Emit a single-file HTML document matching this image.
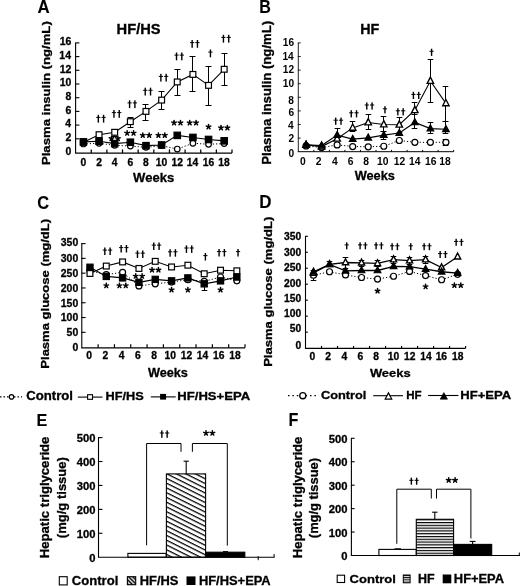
<!DOCTYPE html>
<html><head><meta charset="utf-8"><style>
html,body{margin:0;padding:0;background:#fff;}
svg{display:block;filter:grayscale(1);}
text{font-family:"Liberation Sans",sans-serif;stroke:#000;stroke-width:0.3px;}
</style></head><body>
<svg width="520" height="586" viewBox="0 0 520 586">
<rect width="520" height="586" fill="#fff"/>
<text transform="translate(37.38,12.50) scale(0.9270,1)" font-size="18.17" font-weight="bold" fill="#000" style="stroke-width:0.1px">A</text>
<text transform="translate(116.62,33.60) scale(1.0310,1)" font-size="14.24" font-weight="bold" fill="#000">HF/HS</text>
<text transform="translate(49.50,165.08) rotate(-90) scale(1.1177,1)" font-size="11.77" font-weight="bold">Plasma insulin (ng/mL)</text>
<line x1="75.60" y1="42.90" x2="75.60" y2="153.00" stroke="#000" stroke-width="1.1"/>
<line x1="75.05" y1="138.80" x2="79.40" y2="138.80" stroke="#000" stroke-width="1.1"/>
<line x1="75.05" y1="125.10" x2="79.40" y2="125.10" stroke="#000" stroke-width="1.1"/>
<line x1="75.05" y1="111.40" x2="79.40" y2="111.40" stroke="#000" stroke-width="1.1"/>
<line x1="75.05" y1="97.70" x2="79.40" y2="97.70" stroke="#000" stroke-width="1.1"/>
<line x1="75.05" y1="84.00" x2="79.40" y2="84.00" stroke="#000" stroke-width="1.1"/>
<line x1="75.05" y1="70.30" x2="79.40" y2="70.30" stroke="#000" stroke-width="1.1"/>
<line x1="75.05" y1="56.60" x2="79.40" y2="56.60" stroke="#000" stroke-width="1.1"/>
<line x1="75.05" y1="42.90" x2="79.40" y2="42.90" stroke="#000" stroke-width="1.1"/>
<line x1="74.97" y1="153.00" x2="232.00" y2="153.00" stroke="#000" stroke-width="1.25"/>
<line x1="91.24" y1="153.00" x2="91.24" y2="149.40" stroke="#000" stroke-width="1.25"/>
<line x1="106.88" y1="153.00" x2="106.88" y2="149.40" stroke="#000" stroke-width="1.25"/>
<line x1="122.52" y1="153.00" x2="122.52" y2="149.40" stroke="#000" stroke-width="1.25"/>
<line x1="138.16" y1="153.00" x2="138.16" y2="149.40" stroke="#000" stroke-width="1.25"/>
<line x1="153.80" y1="153.00" x2="153.80" y2="149.40" stroke="#000" stroke-width="1.25"/>
<line x1="169.44" y1="153.00" x2="169.44" y2="149.40" stroke="#000" stroke-width="1.25"/>
<line x1="185.08" y1="153.00" x2="185.08" y2="149.40" stroke="#000" stroke-width="1.25"/>
<line x1="200.72" y1="153.00" x2="200.72" y2="149.40" stroke="#000" stroke-width="1.25"/>
<line x1="216.36" y1="153.00" x2="216.36" y2="149.40" stroke="#000" stroke-width="1.25"/>
<line x1="232.00" y1="153.00" x2="232.00" y2="149.40" stroke="#000" stroke-width="1.25"/>
<text transform="translate(65.52,154.85) scale(1.0000,1)" font-size="10.45" font-weight="bold">0</text>
<text transform="translate(65.51,141.15) scale(1.0000,1)" font-size="10.45" font-weight="bold">2</text>
<text transform="translate(65.14,127.45) scale(1.0000,1)" font-size="10.45" font-weight="bold">4</text>
<text transform="translate(65.46,113.75) scale(1.0000,1)" font-size="10.45" font-weight="bold">6</text>
<text transform="translate(65.41,100.05) scale(1.0000,1)" font-size="10.45" font-weight="bold">8</text>
<text transform="translate(59.70,86.35) scale(1.0000,1)" font-size="10.45" font-weight="bold">10</text>
<text transform="translate(59.69,72.65) scale(1.0000,1)" font-size="10.45" font-weight="bold">12</text>
<text transform="translate(59.33,58.95) scale(1.0000,1)" font-size="10.45" font-weight="bold">14</text>
<text transform="translate(59.65,45.25) scale(1.0000,1)" font-size="10.45" font-weight="bold">16</text>
<text transform="translate(80.56,165.60) scale(1.0000,1)" font-size="10.31" font-weight="bold">0</text>
<text transform="translate(96.22,165.60) scale(1.0000,1)" font-size="10.31" font-weight="bold">2</text>
<text transform="translate(111.78,165.60) scale(1.0000,1)" font-size="10.31" font-weight="bold">4</text>
<text transform="translate(127.47,165.60) scale(1.0000,1)" font-size="10.31" font-weight="bold">6</text>
<text transform="translate(143.11,165.60) scale(1.0000,1)" font-size="10.31" font-weight="bold">8</text>
<text transform="translate(155.77,165.60) scale(1.0000,1)" font-size="10.31" font-weight="bold">10</text>
<text transform="translate(171.41,165.60) scale(1.0000,1)" font-size="10.31" font-weight="bold">12</text>
<text transform="translate(186.87,165.60) scale(1.0000,1)" font-size="10.31" font-weight="bold">14</text>
<text transform="translate(202.67,165.60) scale(1.0000,1)" font-size="10.31" font-weight="bold">16</text>
<text transform="translate(218.28,165.60) scale(1.0000,1)" font-size="10.31" font-weight="bold">18</text>
<text transform="translate(133.09,182.10) scale(1.0440,1)" font-size="12.50" font-weight="bold" fill="#000">Weeks</text>
<line x1="114.50" y1="129.50" x2="114.50" y2="136.50" stroke="#000" stroke-width="1.0"/>
<line x1="111.50" y1="129.50" x2="117.50" y2="129.50" stroke="#000" stroke-width="1.0"/>
<line x1="111.50" y1="136.50" x2="117.50" y2="136.50" stroke="#000" stroke-width="1.0"/>
<line x1="130.50" y1="117.50" x2="130.50" y2="127.50" stroke="#000" stroke-width="1.0"/>
<line x1="127.50" y1="117.50" x2="133.50" y2="117.50" stroke="#000" stroke-width="1.0"/>
<line x1="127.50" y1="127.50" x2="133.50" y2="127.50" stroke="#000" stroke-width="1.0"/>
<line x1="145.50" y1="104.50" x2="145.50" y2="120.50" stroke="#000" stroke-width="1.0"/>
<line x1="142.50" y1="104.50" x2="148.50" y2="104.50" stroke="#000" stroke-width="1.0"/>
<line x1="142.50" y1="120.50" x2="148.50" y2="120.50" stroke="#000" stroke-width="1.0"/>
<line x1="161.50" y1="91.50" x2="161.50" y2="109.50" stroke="#000" stroke-width="1.0"/>
<line x1="158.50" y1="91.50" x2="164.50" y2="91.50" stroke="#000" stroke-width="1.0"/>
<line x1="158.50" y1="109.50" x2="164.50" y2="109.50" stroke="#000" stroke-width="1.0"/>
<line x1="177.50" y1="69.50" x2="177.50" y2="95.50" stroke="#000" stroke-width="1.0"/>
<line x1="174.50" y1="69.50" x2="180.50" y2="69.50" stroke="#000" stroke-width="1.0"/>
<line x1="174.50" y1="95.50" x2="180.50" y2="95.50" stroke="#000" stroke-width="1.0"/>
<line x1="192.50" y1="56.50" x2="192.50" y2="91.50" stroke="#000" stroke-width="1.0"/>
<line x1="189.50" y1="56.50" x2="195.50" y2="56.50" stroke="#000" stroke-width="1.0"/>
<line x1="189.50" y1="91.50" x2="195.50" y2="91.50" stroke="#000" stroke-width="1.0"/>
<line x1="208.50" y1="66.50" x2="208.50" y2="105.50" stroke="#000" stroke-width="1.0"/>
<line x1="205.50" y1="66.50" x2="211.50" y2="66.50" stroke="#000" stroke-width="1.0"/>
<line x1="205.50" y1="105.50" x2="211.50" y2="105.50" stroke="#000" stroke-width="1.0"/>
<line x1="224.50" y1="53.50" x2="224.50" y2="85.50" stroke="#000" stroke-width="1.0"/>
<line x1="221.50" y1="53.50" x2="227.50" y2="53.50" stroke="#000" stroke-width="1.0"/>
<line x1="221.50" y1="85.50" x2="227.50" y2="85.50" stroke="#000" stroke-width="1.0"/>
<polyline points="83.42,143.94 99.06,143.25 114.70,145.31 130.34,145.99 145.98,147.36 161.62,145.65 177.26,149.07 192.90,143.25 208.54,144.28 224.18,143.59" fill="none" stroke="#000" stroke-width="1.0" stroke-dasharray="1.2,2"/>
<polyline points="83.42,141.88 99.06,141.20 114.70,143.59 130.34,142.22 145.98,145.65 161.62,144.97 177.26,135.38 192.90,137.43 208.54,139.49 224.18,140.85" fill="none" stroke="#000" stroke-width="1.1"/>
<polyline points="83.42,142.22 99.06,134.69 114.70,132.29 130.34,121.67 145.98,111.40 161.62,100.10 177.26,81.94 192.90,74.41 208.54,85.37 224.18,69.27" fill="none" stroke="#000" stroke-width="1.1"/>
<circle cx="83.42" cy="143.94" r="2.80" fill="#fff" stroke="#000" stroke-width="1.2"/>
<circle cx="99.06" cy="143.25" r="2.80" fill="#fff" stroke="#000" stroke-width="1.2"/>
<circle cx="114.70" cy="145.31" r="2.80" fill="#fff" stroke="#000" stroke-width="1.2"/>
<circle cx="130.34" cy="145.99" r="2.80" fill="#fff" stroke="#000" stroke-width="1.2"/>
<circle cx="145.98" cy="147.36" r="2.80" fill="#fff" stroke="#000" stroke-width="1.2"/>
<circle cx="161.62" cy="145.65" r="2.80" fill="#fff" stroke="#000" stroke-width="1.2"/>
<circle cx="177.26" cy="149.07" r="2.80" fill="#fff" stroke="#000" stroke-width="1.2"/>
<circle cx="192.90" cy="143.25" r="2.80" fill="#fff" stroke="#000" stroke-width="1.2"/>
<circle cx="208.54" cy="144.28" r="2.80" fill="#fff" stroke="#000" stroke-width="1.2"/>
<circle cx="224.18" cy="143.59" r="2.80" fill="#fff" stroke="#000" stroke-width="1.2"/>
<rect x="80.52" y="139.32" width="5.80" height="5.80" fill="#fff" stroke="#000" stroke-width="1.2"/>
<rect x="96.16" y="131.79" width="5.80" height="5.80" fill="#fff" stroke="#000" stroke-width="1.2"/>
<rect x="111.80" y="129.39" width="5.80" height="5.80" fill="#fff" stroke="#000" stroke-width="1.2"/>
<rect x="127.44" y="118.77" width="5.80" height="5.80" fill="#fff" stroke="#000" stroke-width="1.2"/>
<rect x="143.08" y="108.50" width="5.80" height="5.80" fill="#fff" stroke="#000" stroke-width="1.2"/>
<rect x="158.72" y="97.20" width="5.80" height="5.80" fill="#fff" stroke="#000" stroke-width="1.2"/>
<rect x="174.36" y="79.04" width="5.80" height="5.80" fill="#fff" stroke="#000" stroke-width="1.2"/>
<rect x="190.00" y="71.51" width="5.80" height="5.80" fill="#fff" stroke="#000" stroke-width="1.2"/>
<rect x="205.64" y="82.47" width="5.80" height="5.80" fill="#fff" stroke="#000" stroke-width="1.2"/>
<rect x="221.28" y="66.37" width="5.80" height="5.80" fill="#fff" stroke="#000" stroke-width="1.2"/>
<rect x="80.22" y="138.68" width="6.40" height="6.40" fill="#000" stroke="#000" stroke-width="1.2"/>
<rect x="95.86" y="138.00" width="6.40" height="6.40" fill="#000" stroke="#000" stroke-width="1.2"/>
<rect x="111.50" y="140.39" width="6.40" height="6.40" fill="#000" stroke="#000" stroke-width="1.2"/>
<rect x="127.14" y="139.02" width="6.40" height="6.40" fill="#000" stroke="#000" stroke-width="1.2"/>
<rect x="142.78" y="142.45" width="6.40" height="6.40" fill="#000" stroke="#000" stroke-width="1.2"/>
<rect x="158.42" y="141.76" width="6.40" height="6.40" fill="#000" stroke="#000" stroke-width="1.2"/>
<rect x="174.06" y="132.17" width="6.40" height="6.40" fill="#000" stroke="#000" stroke-width="1.2"/>
<rect x="189.70" y="134.23" width="6.40" height="6.40" fill="#000" stroke="#000" stroke-width="1.2"/>
<rect x="205.34" y="136.28" width="6.40" height="6.40" fill="#000" stroke="#000" stroke-width="1.2"/>
<rect x="220.98" y="137.65" width="6.40" height="6.40" fill="#000" stroke="#000" stroke-width="1.2"/>
<rect x="97.61" y="114.80" width="1.4" height="7.8" fill="#000"/>
<rect x="96.21" y="116.90" width="4.2" height="1.0" fill="#000"/>
<rect x="102.91" y="114.80" width="1.4" height="7.8" fill="#000"/>
<rect x="101.51" y="116.90" width="4.2" height="1.0" fill="#000"/>
<rect x="113.25" y="110.00" width="1.4" height="7.8" fill="#000"/>
<rect x="111.85" y="112.10" width="4.2" height="1.0" fill="#000"/>
<rect x="118.55" y="110.00" width="1.4" height="7.8" fill="#000"/>
<rect x="117.15" y="112.10" width="4.2" height="1.0" fill="#000"/>
<rect x="128.89" y="100.30" width="1.4" height="7.8" fill="#000"/>
<rect x="127.49" y="102.40" width="4.2" height="1.0" fill="#000"/>
<rect x="134.19" y="100.30" width="1.4" height="7.8" fill="#000"/>
<rect x="132.79" y="102.40" width="4.2" height="1.0" fill="#000"/>
<rect x="144.53" y="87.70" width="1.4" height="7.8" fill="#000"/>
<rect x="143.13" y="89.80" width="4.2" height="1.0" fill="#000"/>
<rect x="149.83" y="87.70" width="1.4" height="7.8" fill="#000"/>
<rect x="148.43" y="89.80" width="4.2" height="1.0" fill="#000"/>
<rect x="160.17" y="73.80" width="1.4" height="7.8" fill="#000"/>
<rect x="158.77" y="75.90" width="4.2" height="1.0" fill="#000"/>
<rect x="165.47" y="73.80" width="1.4" height="7.8" fill="#000"/>
<rect x="164.07" y="75.90" width="4.2" height="1.0" fill="#000"/>
<rect x="175.81" y="52.50" width="1.4" height="7.8" fill="#000"/>
<rect x="174.41" y="54.60" width="4.2" height="1.0" fill="#000"/>
<rect x="181.11" y="52.50" width="1.4" height="7.8" fill="#000"/>
<rect x="179.71" y="54.60" width="4.2" height="1.0" fill="#000"/>
<rect x="191.45" y="40.00" width="1.4" height="7.8" fill="#000"/>
<rect x="190.05" y="42.10" width="4.2" height="1.0" fill="#000"/>
<rect x="196.75" y="40.00" width="1.4" height="7.8" fill="#000"/>
<rect x="195.35" y="42.10" width="4.2" height="1.0" fill="#000"/>
<rect x="209.74" y="49.50" width="1.4" height="7.8" fill="#000"/>
<rect x="208.34" y="51.60" width="4.2" height="1.0" fill="#000"/>
<rect x="222.73" y="34.80" width="1.4" height="7.8" fill="#000"/>
<rect x="221.33" y="36.90" width="4.2" height="1.0" fill="#000"/>
<rect x="228.03" y="34.80" width="1.4" height="7.8" fill="#000"/>
<rect x="226.63" y="36.90" width="4.2" height="1.0" fill="#000"/>
<path d="M111.50,138.53L111.50,136.13M111.50,138.53L113.78,137.79M111.50,138.53L112.91,140.47M111.50,138.53L110.09,140.47M111.50,138.53L109.22,137.79" stroke="#000" stroke-width="1.5" stroke-linecap="round" fill="none"/>
<path d="M117.90,138.53L117.90,136.13M117.90,138.53L120.18,137.79M117.90,138.53L119.31,140.47M117.90,138.53L116.49,140.47M117.90,138.53L115.62,137.79" stroke="#000" stroke-width="1.5" stroke-linecap="round" fill="none"/>
<path d="M127.14,133.13L127.14,130.73M127.14,133.13L129.42,132.39M127.14,133.13L128.55,135.07M127.14,133.13L125.73,135.07M127.14,133.13L124.86,132.39" stroke="#000" stroke-width="1.5" stroke-linecap="round" fill="none"/>
<path d="M133.54,133.13L133.54,130.73M133.54,133.13L135.82,132.39M133.54,133.13L134.95,135.07M133.54,133.13L132.13,135.07M133.54,133.13L131.26,132.39" stroke="#000" stroke-width="1.5" stroke-linecap="round" fill="none"/>
<path d="M142.78,135.33L142.78,132.93M142.78,135.33L145.06,134.59M142.78,135.33L144.19,137.27M142.78,135.33L141.37,137.27M142.78,135.33L140.50,134.59" stroke="#000" stroke-width="1.5" stroke-linecap="round" fill="none"/>
<path d="M149.18,135.33L149.18,132.93M149.18,135.33L151.46,134.59M149.18,135.33L150.59,137.27M149.18,135.33L147.77,137.27M149.18,135.33L146.90,134.59" stroke="#000" stroke-width="1.5" stroke-linecap="round" fill="none"/>
<path d="M158.42,135.33L158.42,132.93M158.42,135.33L160.70,134.59M158.42,135.33L159.83,137.27M158.42,135.33L157.01,137.27M158.42,135.33L156.14,134.59" stroke="#000" stroke-width="1.5" stroke-linecap="round" fill="none"/>
<path d="M164.82,135.33L164.82,132.93M164.82,135.33L167.10,134.59M164.82,135.33L166.23,137.27M164.82,135.33L163.41,137.27M164.82,135.33L162.54,134.59" stroke="#000" stroke-width="1.5" stroke-linecap="round" fill="none"/>
<path d="M174.06,122.83L174.06,120.43M174.06,122.83L176.34,122.09M174.06,122.83L175.47,124.77M174.06,122.83L172.65,124.77M174.06,122.83L171.78,122.09" stroke="#000" stroke-width="1.5" stroke-linecap="round" fill="none"/>
<path d="M180.46,122.83L180.46,120.43M180.46,122.83L182.74,122.09M180.46,122.83L181.87,124.77M180.46,122.83L179.05,124.77M180.46,122.83L178.18,122.09" stroke="#000" stroke-width="1.5" stroke-linecap="round" fill="none"/>
<path d="M189.70,122.83L189.70,120.43M189.70,122.83L191.98,122.09M189.70,122.83L191.11,124.77M189.70,122.83L188.29,124.77M189.70,122.83L187.42,122.09" stroke="#000" stroke-width="1.5" stroke-linecap="round" fill="none"/>
<path d="M196.10,122.83L196.10,120.43M196.10,122.83L198.38,122.09M196.10,122.83L197.51,124.77M196.10,122.83L194.69,124.77M196.10,122.83L193.82,122.09" stroke="#000" stroke-width="1.5" stroke-linecap="round" fill="none"/>
<path d="M208.54,126.83L208.54,124.43M208.54,126.83L210.82,126.09M208.54,126.83L209.95,128.77M208.54,126.83L207.13,128.77M208.54,126.83L206.26,126.09" stroke="#000" stroke-width="1.5" stroke-linecap="round" fill="none"/>
<path d="M220.98,127.83L220.98,125.43M220.98,127.83L223.26,127.09M220.98,127.83L222.39,129.77M220.98,127.83L219.57,129.77M220.98,127.83L218.70,127.09" stroke="#000" stroke-width="1.5" stroke-linecap="round" fill="none"/>
<path d="M227.38,127.83L227.38,125.43M227.38,127.83L229.66,127.09M227.38,127.83L228.79,129.77M227.38,127.83L225.97,129.77M227.38,127.83L225.10,127.09" stroke="#000" stroke-width="1.5" stroke-linecap="round" fill="none"/>
<text transform="translate(259.33,12.50) scale(0.8774,1)" font-size="18.31" font-weight="bold" fill="#000" style="stroke-width:0.1px">B</text>
<text transform="translate(360.24,33.90) scale(1.0153,1)" font-size="14.10" font-weight="bold" fill="#000">HF</text>
<text transform="translate(271.40,164.78) rotate(-90) scale(1.1033,1)" font-size="11.92" font-weight="bold">Plasma insulin (ng/mL)</text>
<line x1="298.30" y1="42.90" x2="298.30" y2="151.70" stroke="#222" stroke-width="1.0"/>
<line x1="297.80" y1="138.10" x2="300.70" y2="138.10" stroke="#222" stroke-width="1.0"/>
<line x1="297.80" y1="124.50" x2="300.70" y2="124.50" stroke="#222" stroke-width="1.0"/>
<line x1="297.80" y1="110.90" x2="300.70" y2="110.90" stroke="#222" stroke-width="1.0"/>
<line x1="297.80" y1="97.30" x2="300.70" y2="97.30" stroke="#222" stroke-width="1.0"/>
<line x1="297.80" y1="83.70" x2="300.70" y2="83.70" stroke="#222" stroke-width="1.0"/>
<line x1="297.80" y1="70.10" x2="300.70" y2="70.10" stroke="#222" stroke-width="1.0"/>
<line x1="297.80" y1="56.50" x2="300.70" y2="56.50" stroke="#222" stroke-width="1.0"/>
<line x1="297.80" y1="42.90" x2="300.70" y2="42.90" stroke="#222" stroke-width="1.0"/>
<line x1="297.80" y1="151.70" x2="453.70" y2="151.70" stroke="#000" stroke-width="1.0"/>
<line x1="313.84" y1="151.70" x2="313.84" y2="149.90" stroke="#000" stroke-width="1.0"/>
<line x1="329.38" y1="151.70" x2="329.38" y2="149.90" stroke="#000" stroke-width="1.0"/>
<line x1="344.92" y1="151.70" x2="344.92" y2="149.90" stroke="#000" stroke-width="1.0"/>
<line x1="360.46" y1="151.70" x2="360.46" y2="149.90" stroke="#000" stroke-width="1.0"/>
<line x1="376.00" y1="151.70" x2="376.00" y2="149.90" stroke="#000" stroke-width="1.0"/>
<line x1="391.54" y1="151.70" x2="391.54" y2="149.90" stroke="#000" stroke-width="1.0"/>
<line x1="407.08" y1="151.70" x2="407.08" y2="149.90" stroke="#000" stroke-width="1.0"/>
<line x1="422.62" y1="151.70" x2="422.62" y2="149.90" stroke="#000" stroke-width="1.0"/>
<line x1="438.16" y1="151.70" x2="438.16" y2="149.90" stroke="#000" stroke-width="1.0"/>
<line x1="453.70" y1="151.70" x2="453.70" y2="149.90" stroke="#000" stroke-width="1.0"/>
<text transform="translate(288.46,156.95) scale(1.0000,1)" font-size="10.17" font-weight="bold" style="stroke-width:0px">0</text>
<text transform="translate(288.45,142.05) scale(1.0000,1)" font-size="10.17" font-weight="bold" style="stroke-width:0px">2</text>
<text transform="translate(288.10,129.05) scale(1.0000,1)" font-size="10.17" font-weight="bold" style="stroke-width:0px">4</text>
<text transform="translate(288.41,116.35) scale(1.0000,1)" font-size="10.17" font-weight="bold" style="stroke-width:0px">6</text>
<text transform="translate(288.36,103.55) scale(1.0000,1)" font-size="10.17" font-weight="bold" style="stroke-width:0px">8</text>
<text transform="translate(282.81,87.35) scale(1.0000,1)" font-size="10.17" font-weight="bold" style="stroke-width:0px">10</text>
<text transform="translate(282.80,73.35) scale(1.0000,1)" font-size="10.17" font-weight="bold" style="stroke-width:0px">12</text>
<text transform="translate(282.44,59.85) scale(1.0000,1)" font-size="10.17" font-weight="bold" style="stroke-width:0px">14</text>
<text transform="translate(282.76,45.95) scale(1.0000,1)" font-size="10.17" font-weight="bold" style="stroke-width:0px">16</text>
<text transform="translate(300.04,165.10) scale(1.0000,1)" font-size="10.31" font-weight="bold" style="stroke-width:0px">0</text>
<text transform="translate(315.86,165.10) scale(1.0000,1)" font-size="10.31" font-weight="bold" style="stroke-width:0px">2</text>
<text transform="translate(332.08,165.10) scale(1.0000,1)" font-size="10.31" font-weight="bold" style="stroke-width:0px">4</text>
<text transform="translate(347.63,165.10) scale(1.0000,1)" font-size="10.31" font-weight="bold" style="stroke-width:0px">6</text>
<text transform="translate(363.13,165.10) scale(1.0000,1)" font-size="10.31" font-weight="bold" style="stroke-width:0px">8</text>
<text transform="translate(377.05,165.10) scale(1.0000,1)" font-size="10.31" font-weight="bold" style="stroke-width:0px">10</text>
<text transform="translate(393.65,165.10) scale(1.0000,1)" font-size="10.31" font-weight="bold" style="stroke-width:0px">12</text>
<text transform="translate(408.97,165.10) scale(1.0000,1)" font-size="10.31" font-weight="bold" style="stroke-width:0px">14</text>
<text transform="translate(424.93,165.10) scale(1.0000,1)" font-size="10.31" font-weight="bold" style="stroke-width:0px">16</text>
<text transform="translate(439.20,165.10) scale(1.0000,1)" font-size="10.31" font-weight="bold" style="stroke-width:0px">18</text>
<text transform="translate(354.69,180.30) scale(1.0092,1)" font-size="12.65" font-weight="bold" fill="#000">Weeks</text>
<line x1="337.50" y1="128.50" x2="337.50" y2="140.50" stroke="#000" stroke-width="1.0"/>
<line x1="334.70" y1="128.50" x2="340.30" y2="128.50" stroke="#000" stroke-width="1.0"/>
<line x1="334.70" y1="140.50" x2="340.30" y2="140.50" stroke="#000" stroke-width="1.0"/>
<line x1="352.50" y1="121.50" x2="352.50" y2="131.50" stroke="#000" stroke-width="1.0"/>
<line x1="349.70" y1="121.50" x2="355.30" y2="121.50" stroke="#000" stroke-width="1.0"/>
<line x1="349.70" y1="131.50" x2="355.30" y2="131.50" stroke="#000" stroke-width="1.0"/>
<line x1="368.50" y1="114.50" x2="368.50" y2="129.50" stroke="#000" stroke-width="1.0"/>
<line x1="365.70" y1="114.50" x2="371.30" y2="114.50" stroke="#000" stroke-width="1.0"/>
<line x1="365.70" y1="129.50" x2="371.30" y2="129.50" stroke="#000" stroke-width="1.0"/>
<line x1="383.50" y1="116.50" x2="383.50" y2="131.50" stroke="#000" stroke-width="1.0"/>
<line x1="380.70" y1="116.50" x2="386.30" y2="116.50" stroke="#000" stroke-width="1.0"/>
<line x1="380.70" y1="131.50" x2="386.30" y2="131.50" stroke="#000" stroke-width="1.0"/>
<line x1="383.50" y1="131.50" x2="383.50" y2="139.50" stroke="#000" stroke-width="1.0"/>
<line x1="380.70" y1="131.50" x2="386.30" y2="131.50" stroke="#000" stroke-width="1.0"/>
<line x1="380.70" y1="139.50" x2="386.30" y2="139.50" stroke="#000" stroke-width="1.0"/>
<line x1="399.50" y1="117.50" x2="399.50" y2="132.50" stroke="#000" stroke-width="1.0"/>
<line x1="396.70" y1="117.50" x2="402.30" y2="117.50" stroke="#000" stroke-width="1.0"/>
<line x1="396.70" y1="132.50" x2="402.30" y2="132.50" stroke="#000" stroke-width="1.0"/>
<line x1="414.50" y1="102.50" x2="414.50" y2="114.50" stroke="#000" stroke-width="1.0"/>
<line x1="411.70" y1="102.50" x2="417.30" y2="102.50" stroke="#000" stroke-width="1.0"/>
<line x1="411.70" y1="114.50" x2="417.30" y2="114.50" stroke="#000" stroke-width="1.0"/>
<line x1="414.50" y1="114.50" x2="414.50" y2="128.50" stroke="#000" stroke-width="1.0"/>
<line x1="411.70" y1="114.50" x2="417.30" y2="114.50" stroke="#000" stroke-width="1.0"/>
<line x1="411.70" y1="128.50" x2="417.30" y2="128.50" stroke="#000" stroke-width="1.0"/>
<line x1="430.50" y1="59.50" x2="430.50" y2="102.50" stroke="#000" stroke-width="1.0"/>
<line x1="427.70" y1="59.50" x2="433.30" y2="59.50" stroke="#000" stroke-width="1.0"/>
<line x1="427.70" y1="102.50" x2="433.30" y2="102.50" stroke="#000" stroke-width="1.0"/>
<line x1="430.50" y1="122.50" x2="430.50" y2="133.50" stroke="#000" stroke-width="1.0"/>
<line x1="427.70" y1="122.50" x2="433.30" y2="122.50" stroke="#000" stroke-width="1.0"/>
<line x1="427.70" y1="133.50" x2="433.30" y2="133.50" stroke="#000" stroke-width="1.0"/>
<line x1="445.50" y1="86.50" x2="445.50" y2="121.50" stroke="#000" stroke-width="1.0"/>
<line x1="442.70" y1="86.50" x2="448.30" y2="86.50" stroke="#000" stroke-width="1.0"/>
<line x1="442.70" y1="121.50" x2="448.30" y2="121.50" stroke="#000" stroke-width="1.0"/>
<line x1="445.50" y1="121.50" x2="445.50" y2="133.50" stroke="#000" stroke-width="1.0"/>
<line x1="442.70" y1="121.50" x2="448.30" y2="121.50" stroke="#000" stroke-width="1.0"/>
<line x1="442.70" y1="133.50" x2="448.30" y2="133.50" stroke="#000" stroke-width="1.0"/>
<line x1="445.50" y1="139.50" x2="445.50" y2="145.50" stroke="#000" stroke-width="1.0"/>
<line x1="442.70" y1="139.50" x2="448.30" y2="139.50" stroke="#000" stroke-width="1.0"/>
<line x1="442.70" y1="145.50" x2="448.30" y2="145.50" stroke="#000" stroke-width="1.0"/>
<polyline points="306.07,145.92 321.61,147.62 337.15,144.90 352.69,146.53 368.23,146.80 383.77,146.26 399.31,140.48 414.85,142.32 430.39,142.32 445.93,142.32" fill="none" stroke="#000" stroke-width="1.0" stroke-dasharray="1.2,2"/>
<polyline points="306.07,144.90 321.61,145.58 337.15,135.11 352.69,139.12 368.23,137.83 383.77,135.11 399.31,133.00 414.85,122.46 430.39,128.58 445.93,129.26" fill="none" stroke="#000" stroke-width="1.1"/>
<polyline points="306.07,144.90 321.61,146.60 337.15,138.78 352.69,127.90 368.23,122.46 383.77,124.50 399.31,124.70 414.85,110.22 430.39,80.98 445.93,103.42" fill="none" stroke="#000" stroke-width="1.1"/>
<circle cx="306.07" cy="145.92" r="3.00" fill="#fff" stroke="#000" stroke-width="1.2"/>
<circle cx="321.61" cy="147.62" r="3.00" fill="#fff" stroke="#000" stroke-width="1.2"/>
<circle cx="337.15" cy="144.90" r="3.00" fill="#fff" stroke="#000" stroke-width="1.2"/>
<circle cx="352.69" cy="146.53" r="3.00" fill="#fff" stroke="#000" stroke-width="1.2"/>
<circle cx="368.23" cy="146.80" r="3.00" fill="#fff" stroke="#000" stroke-width="1.2"/>
<circle cx="383.77" cy="146.26" r="3.00" fill="#fff" stroke="#000" stroke-width="1.2"/>
<circle cx="399.31" cy="140.48" r="3.00" fill="#fff" stroke="#000" stroke-width="1.2"/>
<circle cx="414.85" cy="142.32" r="3.00" fill="#fff" stroke="#000" stroke-width="1.2"/>
<circle cx="430.39" cy="142.32" r="3.00" fill="#fff" stroke="#000" stroke-width="1.2"/>
<circle cx="445.93" cy="142.32" r="3.00" fill="#fff" stroke="#000" stroke-width="1.2"/>
<polygon points="306.07,141.01 309.29,147.26 302.85,147.26" fill="#fff" stroke="#000" stroke-width="1.35" stroke-linejoin="miter"/>
<polygon points="321.61,142.72 324.83,148.96 318.39,148.96" fill="#fff" stroke="#000" stroke-width="1.35" stroke-linejoin="miter"/>
<polygon points="337.15,134.90 340.37,141.14 333.93,141.14" fill="#fff" stroke="#000" stroke-width="1.35" stroke-linejoin="miter"/>
<polygon points="352.69,124.01 355.91,130.26 349.47,130.26" fill="#fff" stroke="#000" stroke-width="1.35" stroke-linejoin="miter"/>
<polygon points="368.23,118.57 371.45,124.83 365.01,124.83" fill="#fff" stroke="#000" stroke-width="1.35" stroke-linejoin="miter"/>
<polygon points="383.77,120.61 386.99,126.86 380.55,126.86" fill="#fff" stroke="#000" stroke-width="1.35" stroke-linejoin="miter"/>
<polygon points="399.31,120.82 402.53,127.07 396.09,127.07" fill="#fff" stroke="#000" stroke-width="1.35" stroke-linejoin="miter"/>
<polygon points="414.85,106.33 418.07,112.59 411.63,112.59" fill="#fff" stroke="#000" stroke-width="1.35" stroke-linejoin="miter"/>
<polygon points="430.39,77.09 433.61,83.34 427.17,83.34" fill="#fff" stroke="#000" stroke-width="1.35" stroke-linejoin="miter"/>
<polygon points="445.93,99.53 449.15,105.78 442.70,105.78" fill="#fff" stroke="#000" stroke-width="1.35" stroke-linejoin="miter"/>
<polygon points="306.07,141.18 309.37,147.18 302.77,147.18" fill="#000" stroke="#000" stroke-width="1.2" stroke-linejoin="miter"/>
<polygon points="321.61,141.86 324.91,147.86 318.31,147.86" fill="#000" stroke="#000" stroke-width="1.2" stroke-linejoin="miter"/>
<polygon points="337.15,131.39 340.45,137.39 333.85,137.39" fill="#000" stroke="#000" stroke-width="1.2" stroke-linejoin="miter"/>
<polygon points="352.69,135.40 355.99,141.40 349.39,141.40" fill="#000" stroke="#000" stroke-width="1.2" stroke-linejoin="miter"/>
<polygon points="368.23,134.11 371.53,140.11 364.93,140.11" fill="#000" stroke="#000" stroke-width="1.2" stroke-linejoin="miter"/>
<polygon points="383.77,131.39 387.07,137.39 380.47,137.39" fill="#000" stroke="#000" stroke-width="1.2" stroke-linejoin="miter"/>
<polygon points="399.31,129.28 402.61,135.28 396.01,135.28" fill="#000" stroke="#000" stroke-width="1.2" stroke-linejoin="miter"/>
<polygon points="414.85,118.74 418.15,124.74 411.55,124.74" fill="#000" stroke="#000" stroke-width="1.2" stroke-linejoin="miter"/>
<polygon points="430.39,124.86 433.69,130.86 427.09,130.86" fill="#000" stroke="#000" stroke-width="1.2" stroke-linejoin="miter"/>
<polygon points="445.93,125.54 449.23,131.54 442.63,131.54" fill="#000" stroke="#000" stroke-width="1.2" stroke-linejoin="miter"/>
<rect x="335.00" y="117.60" width="1.4" height="7.2" fill="#000"/>
<rect x="333.60" y="119.70" width="4.2" height="1.0" fill="#000"/>
<rect x="340.30" y="117.60" width="1.4" height="7.2" fill="#000"/>
<rect x="338.90" y="119.70" width="4.2" height="1.0" fill="#000"/>
<rect x="350.54" y="110.20" width="1.4" height="7.2" fill="#000"/>
<rect x="349.14" y="112.30" width="4.2" height="1.0" fill="#000"/>
<rect x="355.84" y="110.20" width="1.4" height="7.2" fill="#000"/>
<rect x="354.44" y="112.30" width="4.2" height="1.0" fill="#000"/>
<rect x="366.08" y="102.40" width="1.4" height="7.2" fill="#000"/>
<rect x="364.68" y="104.50" width="4.2" height="1.0" fill="#000"/>
<rect x="371.38" y="102.40" width="1.4" height="7.2" fill="#000"/>
<rect x="369.98" y="104.50" width="4.2" height="1.0" fill="#000"/>
<rect x="384.27" y="106.20" width="1.4" height="7.2" fill="#000"/>
<rect x="382.87" y="108.30" width="4.2" height="1.0" fill="#000"/>
<rect x="397.16" y="108.20" width="1.4" height="7.2" fill="#000"/>
<rect x="395.76" y="110.30" width="4.2" height="1.0" fill="#000"/>
<rect x="402.46" y="108.20" width="1.4" height="7.2" fill="#000"/>
<rect x="401.06" y="110.30" width="4.2" height="1.0" fill="#000"/>
<rect x="412.70" y="91.80" width="1.4" height="7.2" fill="#000"/>
<rect x="411.30" y="93.90" width="4.2" height="1.0" fill="#000"/>
<rect x="418.00" y="91.80" width="1.4" height="7.2" fill="#000"/>
<rect x="416.60" y="93.90" width="4.2" height="1.0" fill="#000"/>
<rect x="430.89" y="48.70" width="1.4" height="7.2" fill="#000"/>
<rect x="429.49" y="50.80" width="4.2" height="1.0" fill="#000"/>
<text transform="translate(37.23,209.20) scale(0.8661,1)" font-size="18.90" font-weight="bold" fill="#000" style="stroke-width:0.1px">C</text>
<text transform="translate(48.60,368.67) rotate(-90) scale(1.1497,1)" font-size="11.34" font-weight="bold">Plasma glucose (mg/dL)</text>
<line x1="81.80" y1="243.60" x2="81.80" y2="347.80" stroke="#000" stroke-width="1.1"/>
<line x1="81.25" y1="332.31" x2="85.60" y2="332.31" stroke="#000" stroke-width="1.1"/>
<line x1="81.25" y1="317.53" x2="85.60" y2="317.53" stroke="#000" stroke-width="1.1"/>
<line x1="81.25" y1="302.74" x2="85.60" y2="302.74" stroke="#000" stroke-width="1.1"/>
<line x1="81.25" y1="287.96" x2="85.60" y2="287.96" stroke="#000" stroke-width="1.1"/>
<line x1="81.25" y1="273.17" x2="85.60" y2="273.17" stroke="#000" stroke-width="1.1"/>
<line x1="81.25" y1="258.39" x2="85.60" y2="258.39" stroke="#000" stroke-width="1.1"/>
<line x1="81.25" y1="243.60" x2="85.60" y2="243.60" stroke="#000" stroke-width="1.1"/>
<line x1="81.20" y1="347.80" x2="245.00" y2="347.80" stroke="#000" stroke-width="1.2"/>
<line x1="98.12" y1="347.80" x2="98.12" y2="344.20" stroke="#000" stroke-width="1.2"/>
<line x1="114.44" y1="347.80" x2="114.44" y2="344.20" stroke="#000" stroke-width="1.2"/>
<line x1="130.76" y1="347.80" x2="130.76" y2="344.20" stroke="#000" stroke-width="1.2"/>
<line x1="147.08" y1="347.80" x2="147.08" y2="344.20" stroke="#000" stroke-width="1.2"/>
<line x1="163.40" y1="347.80" x2="163.40" y2="344.20" stroke="#000" stroke-width="1.2"/>
<line x1="179.72" y1="347.80" x2="179.72" y2="344.20" stroke="#000" stroke-width="1.2"/>
<line x1="196.04" y1="347.80" x2="196.04" y2="344.20" stroke="#000" stroke-width="1.2"/>
<line x1="212.36" y1="347.80" x2="212.36" y2="344.20" stroke="#000" stroke-width="1.2"/>
<line x1="228.68" y1="347.80" x2="228.68" y2="344.20" stroke="#000" stroke-width="1.2"/>
<line x1="245.00" y1="347.80" x2="245.00" y2="344.20" stroke="#000" stroke-width="1.2"/>
<text transform="translate(72.42,351.05) scale(1.0000,1)" font-size="10.45" font-weight="bold">0</text>
<text transform="translate(66.60,336.26) scale(1.0000,1)" font-size="10.45" font-weight="bold">50</text>
<text transform="translate(60.79,321.48) scale(1.0000,1)" font-size="10.45" font-weight="bold">100</text>
<text transform="translate(60.79,306.69) scale(1.0000,1)" font-size="10.45" font-weight="bold">150</text>
<text transform="translate(60.79,291.90) scale(1.0000,1)" font-size="10.45" font-weight="bold">200</text>
<text transform="translate(60.79,277.12) scale(1.0000,1)" font-size="10.45" font-weight="bold">250</text>
<text transform="translate(60.79,262.33) scale(1.0000,1)" font-size="10.45" font-weight="bold">300</text>
<text transform="translate(60.79,246.25) scale(1.0000,1)" font-size="10.45" font-weight="bold">350</text>
<text transform="translate(86.34,359.10) scale(1.0000,1)" font-size="10.31" font-weight="bold">0</text>
<text transform="translate(102.58,359.10) scale(1.0000,1)" font-size="10.31" font-weight="bold">2</text>
<text transform="translate(118.72,359.10) scale(1.0000,1)" font-size="10.31" font-weight="bold">4</text>
<text transform="translate(134.99,359.10) scale(1.0000,1)" font-size="10.31" font-weight="bold">6</text>
<text transform="translate(151.21,359.10) scale(1.0000,1)" font-size="10.31" font-weight="bold">8</text>
<text transform="translate(164.45,359.10) scale(1.0000,1)" font-size="10.31" font-weight="bold">10</text>
<text transform="translate(180.67,359.10) scale(1.0000,1)" font-size="10.31" font-weight="bold">12</text>
<text transform="translate(196.71,359.10) scale(1.0000,1)" font-size="10.31" font-weight="bold">14</text>
<text transform="translate(213.09,359.10) scale(1.0000,1)" font-size="10.31" font-weight="bold">16</text>
<text transform="translate(229.28,359.10) scale(1.0000,1)" font-size="10.31" font-weight="bold">18</text>
<text transform="translate(147.89,376.80) scale(0.9816,1)" font-size="12.94" font-weight="bold" fill="#000">Weeks</text>
<line x1="204.50" y1="279.50" x2="204.50" y2="290.50" stroke="#000" stroke-width="1.0"/>
<line x1="201.70" y1="279.50" x2="207.30" y2="279.50" stroke="#000" stroke-width="1.0"/>
<line x1="201.70" y1="290.50" x2="207.30" y2="290.50" stroke="#000" stroke-width="1.0"/>
<polyline points="89.96,270.81 106.28,274.65 122.60,272.28 138.92,285.89 155.24,283.82 171.56,282.04 187.88,279.68 204.20,281.45 220.52,277.02 236.84,280.86" fill="none" stroke="#000" stroke-width="1.0" stroke-dasharray="1.2,2"/>
<polyline points="89.96,267.26 106.28,276.42 122.60,277.90 138.92,282.34 155.24,279.38 171.56,280.86 187.88,277.90 204.20,283.82 220.52,280.86 236.84,277.02" fill="none" stroke="#000" stroke-width="1.1"/>
<polyline points="89.96,273.47 106.28,266.07 122.60,261.93 138.92,268.44 155.24,261.34 171.56,266.96 187.88,265.19 204.20,273.76 220.52,270.21 236.84,270.81" fill="none" stroke="#000" stroke-width="1.1"/>
<circle cx="89.96" cy="270.81" r="3.00" fill="#fff" stroke="#000" stroke-width="1.2"/>
<circle cx="106.28" cy="274.65" r="3.00" fill="#fff" stroke="#000" stroke-width="1.2"/>
<circle cx="122.60" cy="272.28" r="3.00" fill="#fff" stroke="#000" stroke-width="1.2"/>
<circle cx="138.92" cy="285.89" r="3.00" fill="#fff" stroke="#000" stroke-width="1.2"/>
<circle cx="155.24" cy="283.82" r="3.00" fill="#fff" stroke="#000" stroke-width="1.2"/>
<circle cx="171.56" cy="282.04" r="3.00" fill="#fff" stroke="#000" stroke-width="1.2"/>
<circle cx="187.88" cy="279.68" r="3.00" fill="#fff" stroke="#000" stroke-width="1.2"/>
<circle cx="204.20" cy="281.45" r="3.00" fill="#fff" stroke="#000" stroke-width="1.2"/>
<circle cx="220.52" cy="277.02" r="3.00" fill="#fff" stroke="#000" stroke-width="1.2"/>
<circle cx="236.84" cy="280.86" r="3.00" fill="#fff" stroke="#000" stroke-width="1.2"/>
<rect x="86.86" y="264.16" width="6.20" height="6.20" fill="#000" stroke="#000" stroke-width="1.2"/>
<rect x="103.18" y="273.32" width="6.20" height="6.20" fill="#000" stroke="#000" stroke-width="1.2"/>
<rect x="119.50" y="274.80" width="6.20" height="6.20" fill="#000" stroke="#000" stroke-width="1.2"/>
<rect x="135.82" y="279.24" width="6.20" height="6.20" fill="#000" stroke="#000" stroke-width="1.2"/>
<rect x="152.14" y="276.28" width="6.20" height="6.20" fill="#000" stroke="#000" stroke-width="1.2"/>
<rect x="168.46" y="277.76" width="6.20" height="6.20" fill="#000" stroke="#000" stroke-width="1.2"/>
<rect x="184.78" y="274.80" width="6.20" height="6.20" fill="#000" stroke="#000" stroke-width="1.2"/>
<rect x="201.10" y="280.72" width="6.20" height="6.20" fill="#000" stroke="#000" stroke-width="1.2"/>
<rect x="217.42" y="277.76" width="6.20" height="6.20" fill="#000" stroke="#000" stroke-width="1.2"/>
<rect x="233.74" y="273.92" width="6.20" height="6.20" fill="#000" stroke="#000" stroke-width="1.2"/>
<rect x="87.06" y="270.57" width="5.80" height="5.80" fill="#fff" stroke="#000" stroke-width="1.2"/>
<rect x="103.38" y="263.17" width="5.80" height="5.80" fill="#fff" stroke="#000" stroke-width="1.2"/>
<rect x="119.70" y="259.03" width="5.80" height="5.80" fill="#fff" stroke="#000" stroke-width="1.2"/>
<rect x="136.02" y="265.54" width="5.80" height="5.80" fill="#fff" stroke="#000" stroke-width="1.2"/>
<rect x="152.34" y="258.44" width="5.80" height="5.80" fill="#fff" stroke="#000" stroke-width="1.2"/>
<rect x="168.66" y="264.06" width="5.80" height="5.80" fill="#fff" stroke="#000" stroke-width="1.2"/>
<rect x="184.98" y="262.29" width="5.80" height="5.80" fill="#fff" stroke="#000" stroke-width="1.2"/>
<rect x="201.30" y="270.86" width="5.80" height="5.80" fill="#fff" stroke="#000" stroke-width="1.2"/>
<rect x="217.62" y="267.31" width="5.80" height="5.80" fill="#fff" stroke="#000" stroke-width="1.2"/>
<rect x="233.94" y="267.91" width="5.80" height="5.80" fill="#fff" stroke="#000" stroke-width="1.2"/>
<rect x="104.13" y="247.50" width="1.4" height="7.5" fill="#000"/>
<rect x="102.73" y="249.60" width="4.2" height="1.0" fill="#000"/>
<rect x="109.43" y="247.50" width="1.4" height="7.5" fill="#000"/>
<rect x="108.03" y="249.60" width="4.2" height="1.0" fill="#000"/>
<rect x="120.45" y="245.00" width="1.4" height="7.5" fill="#000"/>
<rect x="119.05" y="247.10" width="4.2" height="1.0" fill="#000"/>
<rect x="125.75" y="245.00" width="1.4" height="7.5" fill="#000"/>
<rect x="124.35" y="247.10" width="4.2" height="1.0" fill="#000"/>
<rect x="136.77" y="250.50" width="1.4" height="7.5" fill="#000"/>
<rect x="135.37" y="252.60" width="4.2" height="1.0" fill="#000"/>
<rect x="142.07" y="250.50" width="1.4" height="7.5" fill="#000"/>
<rect x="140.67" y="252.60" width="4.2" height="1.0" fill="#000"/>
<rect x="153.09" y="242.50" width="1.4" height="7.5" fill="#000"/>
<rect x="151.69" y="244.60" width="4.2" height="1.0" fill="#000"/>
<rect x="158.39" y="242.50" width="1.4" height="7.5" fill="#000"/>
<rect x="156.99" y="244.60" width="4.2" height="1.0" fill="#000"/>
<rect x="169.41" y="249.20" width="1.4" height="7.5" fill="#000"/>
<rect x="168.01" y="251.30" width="4.2" height="1.0" fill="#000"/>
<rect x="174.71" y="249.20" width="1.4" height="7.5" fill="#000"/>
<rect x="173.31" y="251.30" width="4.2" height="1.0" fill="#000"/>
<rect x="185.73" y="245.40" width="1.4" height="7.5" fill="#000"/>
<rect x="184.33" y="247.50" width="4.2" height="1.0" fill="#000"/>
<rect x="191.03" y="245.40" width="1.4" height="7.5" fill="#000"/>
<rect x="189.63" y="247.50" width="4.2" height="1.0" fill="#000"/>
<rect x="204.70" y="253.00" width="1.4" height="7.5" fill="#000"/>
<rect x="203.30" y="255.10" width="4.2" height="1.0" fill="#000"/>
<rect x="218.37" y="249.00" width="1.4" height="7.5" fill="#000"/>
<rect x="216.97" y="251.10" width="4.2" height="1.0" fill="#000"/>
<rect x="223.67" y="249.00" width="1.4" height="7.5" fill="#000"/>
<rect x="222.27" y="251.10" width="4.2" height="1.0" fill="#000"/>
<rect x="237.34" y="249.00" width="1.4" height="7.5" fill="#000"/>
<rect x="235.94" y="251.10" width="4.2" height="1.0" fill="#000"/>
<path d="M106.28,285.64L106.28,283.24M106.28,285.64L108.56,284.90M106.28,285.64L107.69,287.58M106.28,285.64L104.87,287.58M106.28,285.64L104.00,284.90" stroke="#000" stroke-width="1.5" stroke-linecap="round" fill="none"/>
<path d="M119.40,285.64L119.40,283.24M119.40,285.64L121.68,284.90M119.40,285.64L120.81,287.58M119.40,285.64L117.99,287.58M119.40,285.64L117.12,284.90" stroke="#000" stroke-width="1.5" stroke-linecap="round" fill="none"/>
<path d="M125.80,285.64L125.80,283.24M125.80,285.64L128.08,284.90M125.80,285.64L127.21,287.58M125.80,285.64L124.39,287.58M125.80,285.64L123.52,284.90" stroke="#000" stroke-width="1.5" stroke-linecap="round" fill="none"/>
<path d="M135.72,276.14L135.72,273.74M135.72,276.14L138.00,275.40M135.72,276.14L137.13,278.08M135.72,276.14L134.31,278.08M135.72,276.14L133.44,275.40" stroke="#000" stroke-width="1.5" stroke-linecap="round" fill="none"/>
<path d="M142.12,276.14L142.12,273.74M142.12,276.14L144.40,275.40M142.12,276.14L143.53,278.08M142.12,276.14L140.71,278.08M142.12,276.14L139.84,275.40" stroke="#000" stroke-width="1.5" stroke-linecap="round" fill="none"/>
<path d="M152.04,269.94L152.04,267.54M152.04,269.94L154.32,269.20M152.04,269.94L153.45,271.88M152.04,269.94L150.63,271.88M152.04,269.94L149.76,269.20" stroke="#000" stroke-width="1.5" stroke-linecap="round" fill="none"/>
<path d="M158.44,269.94L158.44,267.54M158.44,269.94L160.72,269.20M158.44,269.94L159.85,271.88M158.44,269.94L157.03,271.88M158.44,269.94L156.16,269.20" stroke="#000" stroke-width="1.5" stroke-linecap="round" fill="none"/>
<path d="M171.56,289.84L171.56,287.44M171.56,289.84L173.84,289.10M171.56,289.84L172.97,291.78M171.56,289.84L170.15,291.78M171.56,289.84L169.28,289.10" stroke="#000" stroke-width="1.5" stroke-linecap="round" fill="none"/>
<path d="M187.88,289.84L187.88,287.44M187.88,289.84L190.16,289.10M187.88,289.84L189.29,291.78M187.88,289.84L186.47,291.78M187.88,289.84L185.60,289.10" stroke="#000" stroke-width="1.5" stroke-linecap="round" fill="none"/>
<path d="M220.52,289.84L220.52,287.44M220.52,289.84L222.80,289.10M220.52,289.84L221.93,291.78M220.52,289.84L219.11,291.78M220.52,289.84L218.24,289.10" stroke="#000" stroke-width="1.5" stroke-linecap="round" fill="none"/>
<text transform="translate(259.27,208.40) scale(0.9563,1)" font-size="17.73" font-weight="bold" fill="#000" style="stroke-width:0.1px">D</text>
<text transform="translate(271.60,366.87) rotate(-90) scale(1.1108,1)" font-size="11.77" font-weight="bold">Plasma glucose (mg/dL)</text>
<line x1="305.50" y1="236.30" x2="305.50" y2="348.30" stroke="#000" stroke-width="1.1"/>
<line x1="304.95" y1="332.13" x2="307.90" y2="332.13" stroke="#000" stroke-width="1.1"/>
<line x1="304.95" y1="316.16" x2="307.90" y2="316.16" stroke="#000" stroke-width="1.1"/>
<line x1="304.95" y1="300.19" x2="307.90" y2="300.19" stroke="#000" stroke-width="1.1"/>
<line x1="304.95" y1="284.21" x2="307.90" y2="284.21" stroke="#000" stroke-width="1.1"/>
<line x1="304.95" y1="268.24" x2="307.90" y2="268.24" stroke="#000" stroke-width="1.1"/>
<line x1="304.95" y1="252.27" x2="307.90" y2="252.27" stroke="#000" stroke-width="1.1"/>
<line x1="304.95" y1="236.30" x2="307.90" y2="236.30" stroke="#000" stroke-width="1.1"/>
<line x1="304.93" y1="348.30" x2="465.60" y2="348.30" stroke="#000" stroke-width="1.15"/>
<line x1="321.51" y1="348.30" x2="321.51" y2="345.90" stroke="#000" stroke-width="1.15"/>
<line x1="337.52" y1="348.30" x2="337.52" y2="345.90" stroke="#000" stroke-width="1.15"/>
<line x1="353.53" y1="348.30" x2="353.53" y2="345.90" stroke="#000" stroke-width="1.15"/>
<line x1="369.54" y1="348.30" x2="369.54" y2="345.90" stroke="#000" stroke-width="1.15"/>
<line x1="385.55" y1="348.30" x2="385.55" y2="345.90" stroke="#000" stroke-width="1.15"/>
<line x1="401.56" y1="348.30" x2="401.56" y2="345.90" stroke="#000" stroke-width="1.15"/>
<line x1="417.57" y1="348.30" x2="417.57" y2="345.90" stroke="#000" stroke-width="1.15"/>
<line x1="433.58" y1="348.30" x2="433.58" y2="345.90" stroke="#000" stroke-width="1.15"/>
<line x1="449.59" y1="348.30" x2="449.59" y2="345.90" stroke="#000" stroke-width="1.15"/>
<line x1="465.60" y1="348.30" x2="465.60" y2="345.90" stroke="#000" stroke-width="1.15"/>
<text transform="translate(295.49,348.60) scale(1.0000,1)" font-size="10.31" font-weight="bold">0</text>
<text transform="translate(289.75,332.40) scale(1.0000,1)" font-size="10.31" font-weight="bold">50</text>
<text transform="translate(284.02,317.30) scale(1.0000,1)" font-size="10.31" font-weight="bold">100</text>
<text transform="translate(284.02,302.10) scale(1.0000,1)" font-size="10.31" font-weight="bold">150</text>
<text transform="translate(284.02,286.90) scale(1.0000,1)" font-size="10.31" font-weight="bold">200</text>
<text transform="translate(284.02,271.10) scale(1.0000,1)" font-size="10.31" font-weight="bold">250</text>
<text transform="translate(284.02,255.90) scale(1.0000,1)" font-size="10.31" font-weight="bold">300</text>
<text transform="translate(284.02,239.80) scale(1.0000,1)" font-size="10.31" font-weight="bold">350</text>
<text transform="translate(309.44,360.30) scale(1.0000,1)" font-size="10.31" font-weight="bold">0</text>
<text transform="translate(325.16,360.30) scale(1.0000,1)" font-size="10.31" font-weight="bold">2</text>
<text transform="translate(341.48,360.30) scale(1.0000,1)" font-size="10.31" font-weight="bold">4</text>
<text transform="translate(357.53,360.30) scale(1.0000,1)" font-size="10.31" font-weight="bold">6</text>
<text transform="translate(373.33,360.30) scale(1.0000,1)" font-size="10.31" font-weight="bold">8</text>
<text transform="translate(387.65,360.30) scale(1.0000,1)" font-size="10.31" font-weight="bold">10</text>
<text transform="translate(403.95,360.30) scale(1.0000,1)" font-size="10.31" font-weight="bold">12</text>
<text transform="translate(420.17,360.30) scale(1.0000,1)" font-size="10.31" font-weight="bold">14</text>
<text transform="translate(435.63,360.30) scale(1.0000,1)" font-size="10.31" font-weight="bold">16</text>
<text transform="translate(452.00,360.30) scale(1.0000,1)" font-size="10.31" font-weight="bold">18</text>
<text transform="translate(369.89,376.80) scale(1.1003,1)" font-size="11.77" font-weight="bold" fill="#000">Weeks</text>
<line x1="313.50" y1="270.50" x2="313.50" y2="280.50" stroke="#000" stroke-width="1.0"/>
<line x1="310.70" y1="270.50" x2="316.30" y2="270.50" stroke="#000" stroke-width="1.0"/>
<line x1="310.70" y1="280.50" x2="316.30" y2="280.50" stroke="#000" stroke-width="1.0"/>
<line x1="329.50" y1="261.50" x2="329.50" y2="266.50" stroke="#000" stroke-width="1.0"/>
<line x1="326.70" y1="261.50" x2="332.30" y2="261.50" stroke="#000" stroke-width="1.0"/>
<line x1="326.70" y1="266.50" x2="332.30" y2="266.50" stroke="#000" stroke-width="1.0"/>
<line x1="345.50" y1="257.50" x2="345.50" y2="268.50" stroke="#000" stroke-width="1.0"/>
<line x1="342.70" y1="257.50" x2="348.30" y2="257.50" stroke="#000" stroke-width="1.0"/>
<line x1="342.70" y1="268.50" x2="348.30" y2="268.50" stroke="#000" stroke-width="1.0"/>
<line x1="361.50" y1="260.50" x2="361.50" y2="266.50" stroke="#000" stroke-width="1.0"/>
<line x1="358.70" y1="260.50" x2="364.30" y2="260.50" stroke="#000" stroke-width="1.0"/>
<line x1="358.70" y1="266.50" x2="364.30" y2="266.50" stroke="#000" stroke-width="1.0"/>
<line x1="377.50" y1="260.50" x2="377.50" y2="266.50" stroke="#000" stroke-width="1.0"/>
<line x1="374.70" y1="260.50" x2="380.30" y2="260.50" stroke="#000" stroke-width="1.0"/>
<line x1="374.70" y1="266.50" x2="380.30" y2="266.50" stroke="#000" stroke-width="1.0"/>
<line x1="393.50" y1="256.50" x2="393.50" y2="263.50" stroke="#000" stroke-width="1.0"/>
<line x1="390.70" y1="256.50" x2="396.30" y2="256.50" stroke="#000" stroke-width="1.0"/>
<line x1="390.70" y1="263.50" x2="396.30" y2="263.50" stroke="#000" stroke-width="1.0"/>
<line x1="409.50" y1="257.50" x2="409.50" y2="264.50" stroke="#000" stroke-width="1.0"/>
<line x1="406.70" y1="257.50" x2="412.30" y2="257.50" stroke="#000" stroke-width="1.0"/>
<line x1="406.70" y1="264.50" x2="412.30" y2="264.50" stroke="#000" stroke-width="1.0"/>
<line x1="425.50" y1="256.50" x2="425.50" y2="263.50" stroke="#000" stroke-width="1.0"/>
<line x1="422.70" y1="256.50" x2="428.30" y2="256.50" stroke="#000" stroke-width="1.0"/>
<line x1="422.70" y1="263.50" x2="428.30" y2="263.50" stroke="#000" stroke-width="1.0"/>
<polyline points="313.50,275.27 329.51,271.76 345.52,274.95 361.54,277.51 377.55,279.10 393.56,276.23 409.56,271.44 425.58,275.59 441.59,279.74 457.60,274.31" fill="none" stroke="#000" stroke-width="1.0" stroke-dasharray="1.2,2"/>
<polyline points="313.50,271.76 329.51,264.41 345.52,270.80 361.54,270.48 377.55,270.48 393.56,266.33 409.56,266.65 425.58,269.20 441.59,271.76 457.60,273.03" fill="none" stroke="#000" stroke-width="1.3"/>
<polyline points="313.50,273.03 329.51,264.41 345.52,262.49 361.54,262.81 377.55,263.45 393.56,259.62 409.56,260.58 425.58,259.62 441.59,267.60 457.60,256.74" fill="none" stroke="#000" stroke-width="1.3"/>
<circle cx="313.50" cy="275.27" r="3.00" fill="#fff" stroke="#000" stroke-width="1.2"/>
<circle cx="329.51" cy="271.76" r="3.00" fill="#fff" stroke="#000" stroke-width="1.2"/>
<circle cx="345.52" cy="274.95" r="3.00" fill="#fff" stroke="#000" stroke-width="1.2"/>
<circle cx="361.54" cy="277.51" r="3.00" fill="#fff" stroke="#000" stroke-width="1.2"/>
<circle cx="377.55" cy="279.10" r="3.00" fill="#fff" stroke="#000" stroke-width="1.2"/>
<circle cx="393.56" cy="276.23" r="3.00" fill="#fff" stroke="#000" stroke-width="1.2"/>
<circle cx="409.56" cy="271.44" r="3.00" fill="#fff" stroke="#000" stroke-width="1.2"/>
<circle cx="425.58" cy="275.59" r="3.00" fill="#fff" stroke="#000" stroke-width="1.2"/>
<circle cx="441.59" cy="279.74" r="3.00" fill="#fff" stroke="#000" stroke-width="1.2"/>
<circle cx="457.60" cy="274.31" r="3.00" fill="#fff" stroke="#000" stroke-width="1.2"/>
<polygon points="313.50,269.29 316.61,275.29 310.40,275.29" fill="#fff" stroke="#000" stroke-width="1.4" stroke-linejoin="miter"/>
<polygon points="329.51,260.67 332.62,266.67 326.41,266.67" fill="#fff" stroke="#000" stroke-width="1.4" stroke-linejoin="miter"/>
<polygon points="345.52,258.75 348.62,264.75 342.42,264.75" fill="#fff" stroke="#000" stroke-width="1.4" stroke-linejoin="miter"/>
<polygon points="361.54,259.07 364.64,265.07 358.44,265.07" fill="#fff" stroke="#000" stroke-width="1.4" stroke-linejoin="miter"/>
<polygon points="377.55,259.71 380.65,265.71 374.44,265.71" fill="#fff" stroke="#000" stroke-width="1.4" stroke-linejoin="miter"/>
<polygon points="393.56,255.88 396.66,261.88 390.45,261.88" fill="#fff" stroke="#000" stroke-width="1.4" stroke-linejoin="miter"/>
<polygon points="409.56,256.84 412.67,262.84 406.46,262.84" fill="#fff" stroke="#000" stroke-width="1.4" stroke-linejoin="miter"/>
<polygon points="425.58,255.88 428.68,261.88 422.48,261.88" fill="#fff" stroke="#000" stroke-width="1.4" stroke-linejoin="miter"/>
<polygon points="441.59,263.86 444.69,269.86 438.49,269.86" fill="#fff" stroke="#000" stroke-width="1.4" stroke-linejoin="miter"/>
<polygon points="457.60,253.00 460.70,259.00 454.50,259.00" fill="#fff" stroke="#000" stroke-width="1.4" stroke-linejoin="miter"/>
<polygon points="313.50,268.04 316.80,274.04 310.21,274.04" fill="#000" stroke="#000" stroke-width="1.2" stroke-linejoin="miter"/>
<polygon points="329.51,260.69 332.81,266.69 326.22,266.69" fill="#000" stroke="#000" stroke-width="1.2" stroke-linejoin="miter"/>
<polygon points="345.52,267.08 348.82,273.08 342.23,273.08" fill="#000" stroke="#000" stroke-width="1.2" stroke-linejoin="miter"/>
<polygon points="361.54,266.76 364.83,272.76 358.24,272.76" fill="#000" stroke="#000" stroke-width="1.2" stroke-linejoin="miter"/>
<polygon points="377.55,266.76 380.84,272.76 374.25,272.76" fill="#000" stroke="#000" stroke-width="1.2" stroke-linejoin="miter"/>
<polygon points="393.56,262.61 396.85,268.61 390.26,268.61" fill="#000" stroke="#000" stroke-width="1.2" stroke-linejoin="miter"/>
<polygon points="409.56,262.93 412.86,268.93 406.27,268.93" fill="#000" stroke="#000" stroke-width="1.2" stroke-linejoin="miter"/>
<polygon points="425.58,265.48 428.88,271.48 422.28,271.48" fill="#000" stroke="#000" stroke-width="1.2" stroke-linejoin="miter"/>
<polygon points="441.59,268.04 444.88,274.04 438.29,274.04" fill="#000" stroke="#000" stroke-width="1.2" stroke-linejoin="miter"/>
<polygon points="457.60,269.31 460.89,275.31 454.30,275.31" fill="#000" stroke="#000" stroke-width="1.2" stroke-linejoin="miter"/>
<rect x="346.02" y="242.30" width="1.4" height="7.0" fill="#000"/>
<rect x="344.62" y="244.40" width="4.2" height="1.0" fill="#000"/>
<rect x="359.39" y="242.30" width="1.4" height="7.0" fill="#000"/>
<rect x="357.99" y="244.40" width="4.2" height="1.0" fill="#000"/>
<rect x="364.69" y="242.30" width="1.4" height="7.0" fill="#000"/>
<rect x="363.28" y="244.40" width="4.2" height="1.0" fill="#000"/>
<rect x="375.40" y="242.30" width="1.4" height="7.0" fill="#000"/>
<rect x="374.00" y="244.40" width="4.2" height="1.0" fill="#000"/>
<rect x="380.69" y="242.30" width="1.4" height="7.0" fill="#000"/>
<rect x="379.29" y="244.40" width="4.2" height="1.0" fill="#000"/>
<rect x="391.41" y="243.20" width="1.4" height="7.0" fill="#000"/>
<rect x="390.00" y="245.30" width="4.2" height="1.0" fill="#000"/>
<rect x="396.70" y="243.20" width="1.4" height="7.0" fill="#000"/>
<rect x="395.30" y="245.30" width="4.2" height="1.0" fill="#000"/>
<rect x="410.06" y="243.20" width="1.4" height="7.0" fill="#000"/>
<rect x="408.66" y="245.30" width="4.2" height="1.0" fill="#000"/>
<rect x="423.43" y="243.20" width="1.4" height="7.0" fill="#000"/>
<rect x="422.03" y="245.30" width="4.2" height="1.0" fill="#000"/>
<rect x="428.73" y="243.20" width="1.4" height="7.0" fill="#000"/>
<rect x="427.32" y="245.30" width="4.2" height="1.0" fill="#000"/>
<rect x="439.44" y="251.00" width="1.4" height="7.0" fill="#000"/>
<rect x="438.04" y="253.10" width="4.2" height="1.0" fill="#000"/>
<rect x="444.74" y="251.00" width="1.4" height="7.0" fill="#000"/>
<rect x="443.33" y="253.10" width="4.2" height="1.0" fill="#000"/>
<rect x="455.45" y="238.80" width="1.4" height="7.0" fill="#000"/>
<rect x="454.05" y="240.90" width="4.2" height="1.0" fill="#000"/>
<rect x="460.75" y="238.80" width="1.4" height="7.0" fill="#000"/>
<rect x="459.34" y="240.90" width="4.2" height="1.0" fill="#000"/>
<path d="M377.55,290.94L377.55,288.54M377.55,290.94L379.83,290.20M377.55,290.94L378.96,292.88M377.55,290.94L376.13,292.88M377.55,290.94L375.26,290.20" stroke="#000" stroke-width="1.5" stroke-linecap="round" fill="none"/>
<path d="M425.58,286.64L425.58,284.24M425.58,286.64L427.86,285.90M425.58,286.64L426.99,288.58M425.58,286.64L424.16,288.58M425.58,286.64L423.29,285.90" stroke="#000" stroke-width="1.5" stroke-linecap="round" fill="none"/>
<path d="M454.40,285.34L454.40,282.94M454.40,285.34L456.68,284.60M454.40,285.34L455.81,287.28M454.40,285.34L452.98,287.28M454.40,285.34L452.11,284.60" stroke="#000" stroke-width="1.5" stroke-linecap="round" fill="none"/>
<path d="M460.80,285.34L460.80,282.94M460.80,285.34L463.08,284.60M460.80,285.34L462.21,287.28M460.80,285.34L459.38,287.28M460.80,285.34L458.51,284.60" stroke="#000" stroke-width="1.5" stroke-linecap="round" fill="none"/>
<line x1="0.00" y1="396.90" x2="22.00" y2="396.90" stroke="#000" stroke-width="1.2" stroke-dasharray="1.5,2.0"/>
<circle cx="11.50" cy="396.90" r="2.20" fill="#fff" stroke="#000" stroke-width="1.2"/>
<text transform="translate(26.16,400.40) scale(1.1064,1)" font-size="11.92" font-weight="bold" fill="#000">Control</text>
<line x1="77.80" y1="397.10" x2="102.50" y2="397.10" stroke="#000" stroke-width="1.1"/>
<rect x="87.6" y="394.7" width="4.9" height="4.6" fill="#fff" stroke="#000" stroke-width="1.1"/>
<text transform="translate(105.54,400.40) scale(1.0859,1)" font-size="11.77" font-weight="bold" fill="#000">HF/HS</text>
<line x1="150.80" y1="396.90" x2="175.70" y2="396.90" stroke="#000" stroke-width="1.1"/>
<rect x="160.1" y="393.9" width="6.0" height="5.7" fill="#000"/>
<text transform="translate(177.32,400.40) scale(1.1132,1)" font-size="11.77" font-weight="bold" fill="#000">HF/HS+EPA</text>
<line x1="288.00" y1="395.70" x2="316.50" y2="395.70" stroke="#000" stroke-width="1.2" stroke-dasharray="1.5,2.9"/>
<circle cx="302.80" cy="395.70" r="3.05" fill="#fff" stroke="#000" stroke-width="1.3"/>
<text transform="translate(320.98,399.20) scale(1.0991,1)" font-size="11.63" font-weight="bold" fill="#000">Control</text>
<line x1="373.20" y1="395.70" x2="403.00" y2="395.70" stroke="#000" stroke-width="1.1"/>
<polygon points="388.45,392.86 391.70,399.06 385.20,399.06" fill="#fff" stroke="#000" stroke-width="1.2" stroke-linejoin="miter"/>
<text transform="translate(406.23,399.20) scale(0.9933,1)" font-size="11.63" font-weight="bold" fill="#000">HF</text>
<line x1="428.10" y1="395.50" x2="458.50" y2="395.50" stroke="#000" stroke-width="1.1"/>
<polygon points="443.85,392.58 447.50,399.18 440.20,399.18" fill="#000" stroke="#000" stroke-width="0.6" stroke-linejoin="miter"/>
<text transform="translate(460.33,399.20) scale(1.1238,1)" font-size="11.63" font-weight="bold" fill="#000">HF+EPA</text>
<defs><pattern id="hatch" patternUnits="userSpaceOnUse" width="8" height="4.25" patternTransform="rotate(26.57)"><rect width="8" height="4.25" fill="#fff"/><rect y="0" width="8" height="1.25" fill="#000"/></pattern><pattern id="hstripe" patternUnits="userSpaceOnUse" x="0" y="519.2" width="8" height="2.79"><rect width="8" height="2.79" fill="#fff"/><rect y="0" width="8" height="1.2" fill="#000"/></pattern><pattern id="hatchS" patternUnits="userSpaceOnUse" width="6" height="2.9" patternTransform="rotate(45)"><rect width="6" height="2.9" fill="#fff"/><rect y="0" width="6" height="1.5" fill="#000"/></pattern><pattern id="hstripeS" patternUnits="userSpaceOnUse" x="0" y="575.0" width="8" height="2.2"><rect width="8" height="2.2" fill="#fff"/><rect y="0" width="8" height="1.0" fill="#000"/></pattern></defs>
<text transform="translate(36.61,426.20) scale(0.9378,1)" font-size="17.30" font-weight="bold" fill="#000" style="stroke-width:0.1px">E</text>
<text transform="translate(49.20,558.18) rotate(-90) scale(1.0742,1)" font-size="12.21" font-weight="bold">Hepatic triglyceride</text>
<text transform="translate(66.10,538.15) rotate(-90) scale(1.0189,1)" font-size="12.79" font-weight="bold">(mg/g tissue)</text>
<line x1="98.50" y1="437.60" x2="98.50" y2="557.20" stroke="#000" stroke-width="1.1"/>
<line x1="98.00" y1="533.28" x2="102.50" y2="533.28" stroke="#000" stroke-width="1.1"/>
<line x1="98.00" y1="509.36" x2="102.50" y2="509.36" stroke="#000" stroke-width="1.1"/>
<line x1="98.00" y1="485.44" x2="102.50" y2="485.44" stroke="#000" stroke-width="1.1"/>
<line x1="98.00" y1="461.52" x2="102.50" y2="461.52" stroke="#000" stroke-width="1.1"/>
<line x1="98.00" y1="437.60" x2="102.50" y2="437.60" stroke="#000" stroke-width="1.1"/>
<text transform="translate(89.22,561.50) scale(1.0600,1)" font-size="10.59" font-weight="bold">0</text>
<text transform="translate(76.73,537.58) scale(1.0600,1)" font-size="10.59" font-weight="bold">100</text>
<text transform="translate(76.73,513.66) scale(1.0600,1)" font-size="10.59" font-weight="bold">200</text>
<text transform="translate(76.73,489.74) scale(1.0600,1)" font-size="10.59" font-weight="bold">300</text>
<text transform="translate(76.73,465.82) scale(1.0600,1)" font-size="10.59" font-weight="bold">400</text>
<text transform="translate(76.73,441.90) scale(1.0600,1)" font-size="10.59" font-weight="bold">500</text>
<rect x="127.9" y="553.4" width="38.3" height="3.80" fill="#fff" stroke="#000" stroke-width="1.1"/>
<rect x="166.4" y="473.9" width="39.2" height="83.30" fill="url(#hatch)" stroke="#000" stroke-width="1.1"/>
<rect x="205.6" y="552.2" width="39.2" height="5.00" fill="#000" stroke="#000" stroke-width="1.1"/>
<line x1="186.20" y1="461.20" x2="186.20" y2="473.90" stroke="#000" stroke-width="1.1"/>
<line x1="183.60" y1="461.20" x2="188.80" y2="461.20" stroke="#000" stroke-width="1.1"/>
<line x1="223.00" y1="551.60" x2="228.00" y2="551.60" stroke="#000" stroke-width="1.0"/>
<line x1="98.00" y1="557.20" x2="274.60" y2="557.20" stroke="#000" stroke-width="1.1"/>
<line x1="274.10" y1="557.20" x2="274.10" y2="554.00" stroke="#000" stroke-width="1.0"/>
<line x1="258.20" y1="556.20" x2="258.20" y2="560.20" stroke="#000" stroke-width="1.0"/>
<polyline points="146.60,545.30 146.60,443.50 181.00,443.50 181.00,451.80" fill="none" stroke="#000" stroke-width="1.0"/>
<polyline points="192.40,451.80 192.40,443.50 227.30,443.50 227.30,545.60" fill="none" stroke="#000" stroke-width="1.0"/>
<rect x="161.15" y="430.40" width="1.4" height="7.4" fill="#000"/>
<rect x="159.75" y="432.50" width="4.2" height="1.0" fill="#000"/>
<rect x="166.45" y="430.40" width="1.4" height="7.4" fill="#000"/>
<rect x="165.05" y="432.50" width="4.2" height="1.0" fill="#000"/>
<path d="M206.00,433.13L206.00,430.73M206.00,433.13L208.28,432.39M206.00,433.13L207.41,435.07M206.00,433.13L204.59,435.07M206.00,433.13L203.72,432.39" stroke="#000" stroke-width="1.5" stroke-linecap="round" fill="none"/>
<path d="M212.40,433.13L212.40,430.73M212.40,433.13L214.68,432.39M212.40,433.13L213.81,435.07M212.40,433.13L210.99,435.07M212.40,433.13L210.12,432.39" stroke="#000" stroke-width="1.5" stroke-linecap="round" fill="none"/>
<text transform="translate(288.62,426.20) scale(0.9190,1)" font-size="17.59" font-weight="bold" fill="#000" style="stroke-width:0.1px">F</text>
<text transform="translate(301.50,558.18) rotate(-90) scale(1.0742,1)" font-size="12.21" font-weight="bold">Hepatic triglyceride</text>
<text transform="translate(318.10,538.14) rotate(-90) scale(1.0087,1)" font-size="12.79" font-weight="bold">(mg/g tissue)</text>
<line x1="351.40" y1="438.30" x2="351.40" y2="555.50" stroke="#000" stroke-width="1.1"/>
<line x1="350.90" y1="532.06" x2="354.60" y2="532.06" stroke="#000" stroke-width="1.1"/>
<line x1="350.90" y1="508.62" x2="354.60" y2="508.62" stroke="#000" stroke-width="1.1"/>
<line x1="350.90" y1="485.18" x2="354.60" y2="485.18" stroke="#000" stroke-width="1.1"/>
<line x1="350.90" y1="461.74" x2="354.60" y2="461.74" stroke="#000" stroke-width="1.1"/>
<line x1="350.90" y1="438.30" x2="354.60" y2="438.30" stroke="#000" stroke-width="1.1"/>
<text transform="translate(341.22,560.00) scale(1.0600,1)" font-size="10.59" font-weight="bold">0</text>
<text transform="translate(328.73,536.56) scale(1.0600,1)" font-size="10.59" font-weight="bold">100</text>
<text transform="translate(328.73,513.12) scale(1.0600,1)" font-size="10.59" font-weight="bold">200</text>
<text transform="translate(328.73,489.68) scale(1.0600,1)" font-size="10.59" font-weight="bold">300</text>
<text transform="translate(328.73,466.24) scale(1.0600,1)" font-size="10.59" font-weight="bold">400</text>
<text transform="translate(328.73,442.80) scale(1.0600,1)" font-size="10.59" font-weight="bold">500</text>
<rect x="378.9" y="549.4" width="37.4" height="6.10" fill="#fff" stroke="#000" stroke-width="1.1"/>
<rect x="416.3" y="519.3" width="37.3" height="36.20" fill="url(#hstripe)" stroke="#000" stroke-width="1.1"/>
<rect x="453.6" y="544.4" width="38.1" height="11.10" fill="#000" stroke="#000" stroke-width="1.1"/>
<line x1="434.80" y1="512.20" x2="434.80" y2="519.30" stroke="#000" stroke-width="1.1"/>
<line x1="432.10" y1="512.20" x2="437.50" y2="512.20" stroke="#000" stroke-width="1.1"/>
<line x1="472.60" y1="541.40" x2="472.60" y2="544.40" stroke="#000" stroke-width="1.1"/>
<line x1="469.70" y1="541.40" x2="475.60" y2="541.40" stroke="#000" stroke-width="1.1"/>
<line x1="394.50" y1="548.60" x2="401.00" y2="548.60" stroke="#000" stroke-width="0.8"/>
<line x1="350.90" y1="555.50" x2="520.00" y2="555.50" stroke="#000" stroke-width="1.1"/>
<line x1="519.30" y1="555.50" x2="519.30" y2="552.50" stroke="#000" stroke-width="1.0"/>
<polyline points="396.80,543.80 396.80,489.20 431.30,489.20 431.30,498.50" fill="none" stroke="#000" stroke-width="1.0"/>
<polyline points="436.50,498.50 436.50,489.20 470.90,489.20 470.90,538.50" fill="none" stroke="#000" stroke-width="1.0"/>
<rect x="410.65" y="477.70" width="1.4" height="7.0" fill="#000"/>
<rect x="409.25" y="479.80" width="4.2" height="1.0" fill="#000"/>
<rect x="415.95" y="477.70" width="1.4" height="7.0" fill="#000"/>
<rect x="414.55" y="479.80" width="4.2" height="1.0" fill="#000"/>
<path d="M448.70,480.23L448.70,477.83M448.70,480.23L450.98,479.49M448.70,480.23L450.11,482.17M448.70,480.23L447.29,482.17M448.70,480.23L446.42,479.49" stroke="#000" stroke-width="1.5" stroke-linecap="round" fill="none"/>
<path d="M455.10,480.23L455.10,477.83M455.10,480.23L457.38,479.49M455.10,480.23L456.51,482.17M455.10,480.23L453.69,482.17M455.10,480.23L452.82,479.49" stroke="#000" stroke-width="1.5" stroke-linecap="round" fill="none"/>
<rect x="59.3" y="576.7" width="7.9" height="8.2" fill="#fff" stroke="#000" stroke-width="1.1"/>
<text transform="translate(71.76,584.60) scale(1.0359,1)" font-size="12.65" font-weight="bold" fill="#000">Control</text>
<rect x="127.4" y="576.7" width="8.3" height="8.0" fill="url(#hatchS)" stroke="#000" stroke-width="1.1"/>
<text transform="translate(139.74,584.60) scale(1.0192,1)" font-size="12.65" font-weight="bold" fill="#000">HF/HS</text>
<rect x="186.5" y="576.4" width="9.0" height="8.6" fill="#000"/>
<text transform="translate(198.94,584.60) scale(1.0194,1)" font-size="12.65" font-weight="bold" fill="#000">HF/HS+EPA</text>
<rect x="337.2" y="575.2" width="7.4" height="7.3" fill="#fff" stroke="#000" stroke-width="1.1"/>
<text transform="translate(349.57,582.70) scale(1.1216,1)" font-size="11.63" font-weight="bold" fill="#000">Control</text>
<rect x="403.3" y="575.0" width="6.8" height="7.8" fill="url(#hstripeS)" stroke="#000" stroke-width="1.0"/>
<text transform="translate(418.07,582.90) scale(1.0441,1)" font-size="11.92" font-weight="bold" fill="#000">HF</text>
<rect x="442.7" y="574.5" width="8.6" height="8.8" fill="#000"/>
<text transform="translate(453.84,582.90) scale(1.0812,1)" font-size="11.92" font-weight="bold" fill="#000">HF+EPA</text>
</svg>
</body></html>
